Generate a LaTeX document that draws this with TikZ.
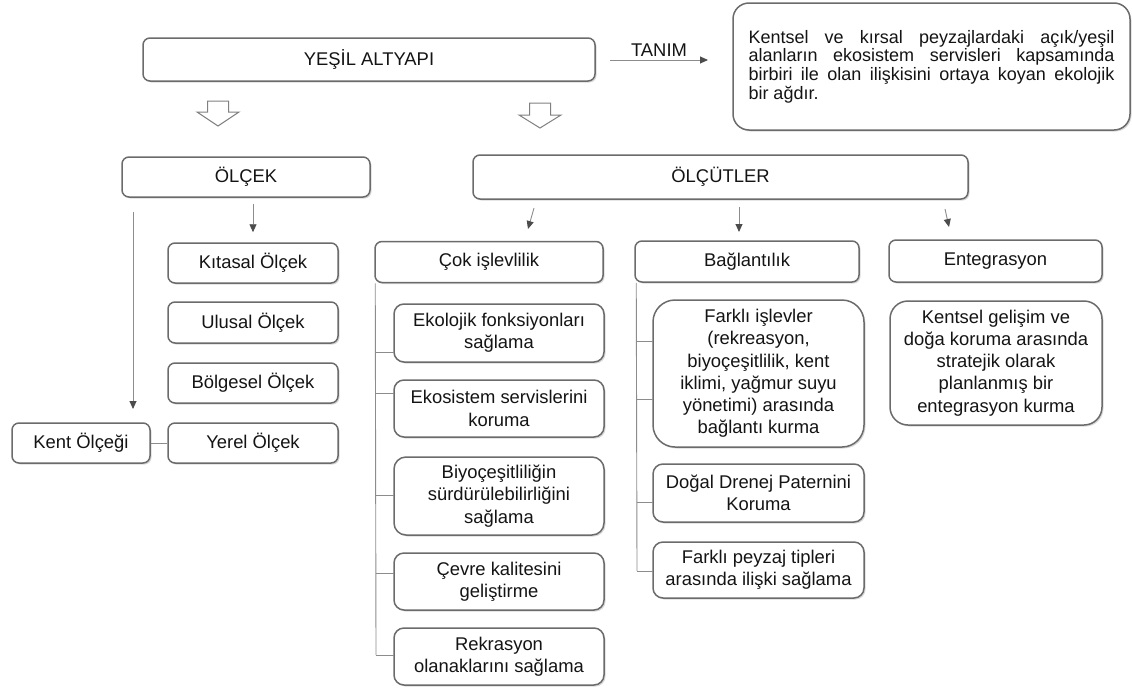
\documentclass[tikz,border=0pt]{standalone}
\usepackage{fontspec}
\setmainfont{Liberation Sans}
\usetikzlibrary{shadows,arrows.meta}
\begin{document}
\begin{tikzpicture}[x=1pt,y=-1pt,
  box/.style={draw=black!58, line width=1.5pt, fill=white, rounded corners=7pt,
    drop shadow={shadow xshift=1.5pt, shadow yshift=-1.5pt, opacity=0.3},
    font=\fontsize{18.4}{22.2}\selectfont, text=black!92, align=center, inner sep=2pt},
  conn/.style={draw=black!45, line width=0.9pt},
  arr/.style={conn, -{Triangle[length=8pt,width=7pt,color=black!70]}},
  hollow/.style={draw=black!50, line width=1pt, fill=white, line join=miter},
  lbl/.style={font=\fontsize{18.4}{22}\selectfont, text=black!92, inner sep=1pt}
]
\useasboundingbox (0,0) rectangle (1132,691);

% top row
\node[box, minimum width=452pt, minimum height=43pt] (ya) at (369,59.5) {YEŞİL ALTYAPI};
\node[box, rounded corners=16pt, minimum width=397pt, minimum height=127pt,
      text width=366pt, align=justify, font=\fontsize{18}{18.7}\selectfont] (desc) at (931.5,66.5)
  {\lineskiplimit=-20pt\hyphenpenalty=10000\exhyphenpenalty=10000 Kentsel ve kırsal peyzajlardaki açık/yeşil\linebreak alanların ekosistem servisleri kapsamında\linebreak birbiri ile olan ilişkisini ortaya koyan ekolojik\linebreak bir ağdır.};
\coordinate (t1) at (610,60);
\coordinate (t2) at (708,60);
\draw[arr] (t1) -- node[lbl, above=2pt] (tanim) {TANIM} (t2);

% hollow arrows
\draw[hollow] (207.5,101) -- (228.5,101) -- (228.5,112) -- (239,112) -- (218,126) -- (197,112) -- (207.5,112) -- cycle;
\draw[hollow] (529.5,103) -- (550.5,103) -- (550.5,115) -- (561,115) -- (540,128) -- (519,115) -- (529.5,115) -- cycle;

% scale branch
\node[box, minimum width=248pt, minimum height=40pt] (olcek) at (246,177) {ÖLÇEK};
\node[box, minimum width=170pt, minimum height=40pt] (kita) at (253,263) {Kıtasal Ölçek};
\node[box, minimum width=170pt, minimum height=41pt] (ulusal) at (253,322.5) {Ulusal Ölçek};
\node[box, minimum width=170pt, minimum height=40pt] (bolge) at (253,383) {Bölgesel Ölçek};
\node[box, minimum width=170pt, minimum height=40pt] (yerel) at (253,443) {Yerel Ölçek};
\node[box, minimum width=138pt, minimum height=40pt] (kent) at (81,443) {Kent Ölçeği};

\draw[arr, shorten <=6pt, shorten >=10pt] (kita.north |- olcek.south) -- (kita.north);
\coordinate (k1) at (133,212);
\coordinate (k2) at (133,409);
\draw[arr] (k1) -- (k2);
\draw[conn] (kent) -- (yerel);

% criteria branch
\node[box, minimum width=495pt, minimum height=44pt] (olcut) at (720.5,177) {ÖLÇÜTLER};
\node[box, minimum width=228pt, minimum height=41pt] (cok) at (489,262) {Çok işlevlilik};
\node[box, minimum width=224pt, minimum height=41pt] (bag) at (747,261.5) {Bağlantılık};
\node[box, minimum width=213pt, minimum height=42pt] (ent) at (995.5,261) {Entegrasyon};

\coordinate (o1a) at (534,208); \coordinate (o1b) at (528,229);
\coordinate (o2a) at (739,207); \coordinate (o2b) at (739,232);
\coordinate (o3a) at (945,209); \coordinate (o3b) at (949,227);
\draw[arr] (o1a) -- (o1b);
\draw[arr] (o2a) -- (o2b);
\draw[arr] (o3a) -- (o3b);

% Çok işlevlilik children
\node[box, rounded corners=10pt, minimum width=210pt, minimum height=58pt] (eko) at (499,333) {Ekolojik fonksiyonları\\sağlama};
\node[box, rounded corners=10pt, minimum width=210pt, minimum height=57pt] (ekos) at (499,408.5) {Ekosistem servislerini\\koruma};
\node[box, rounded corners=12pt, minimum width=210pt, minimum height=78pt] (biyo) at (499,496) {Biyoçeşitliliğin\\sürdürülebilirliğini\\sağlama};
\node[box, rounded corners=10pt, minimum width=210pt, minimum height=57pt] (cevre) at (499,581.5) {Çevre kalitesini\\geliştirme};
\node[box, rounded corners=10pt, minimum width=210pt, minimum height=57pt] (rek) at (499,656.5) {Rekrasyon\\olanaklarını sağlama};

\draw[conn] ([xshift=1pt]cok.south west) -- (376,655);
\draw[conn] (376,352) -- ++(18,0);
\draw[conn] (376,393) -- ++(18,0);
\draw[conn] (376,495) -- ++(18,0);
\draw[conn] (376,573) -- ++(18,0);
\draw[conn] (376,655) -- ++(18,0);

% Bağlantılık children
\node[box, rounded corners=22pt, minimum width=211pt, minimum height=147pt] (fark) at (758.5,373.5) {Farklı işlevler\\(rekreasyon,\\biyoçeşitlilik, kent\\iklimi, yağmur suyu\\yönetimi) arasında\\bağlantı kurma};
\node[box, rounded corners=10pt, minimum width=211pt, minimum height=58pt] (dogal) at (758.5,493) {Doğal Drenej Paternini\\Koruma};
\node[box, rounded corners=10pt, minimum width=211pt, minimum height=56pt] (peyzaj) at (758.5,570) {Farklı peyzaj tipleri\\arasında ilişki sağlama};

\draw[conn] ([xshift=2pt]bag.south west) -- (637,571);
\draw[conn] (637,341) -- ++(16,0);
\draw[conn] (637,399) -- ++(16,0);
\draw[conn] (637,502) -- ++(16,0);
\draw[conn] (637,571) -- ++(16,0);

% Entegrasyon child
\node[box, rounded corners=18pt, minimum width=212pt, minimum height=124pt] (keng) at (996,363) {Kentsel gelişim ve\\doğa koruma arasında\\stratejik olarak\\planlanmış bir\\entegrasyon kurma};
\end{tikzpicture}
\end{document}
